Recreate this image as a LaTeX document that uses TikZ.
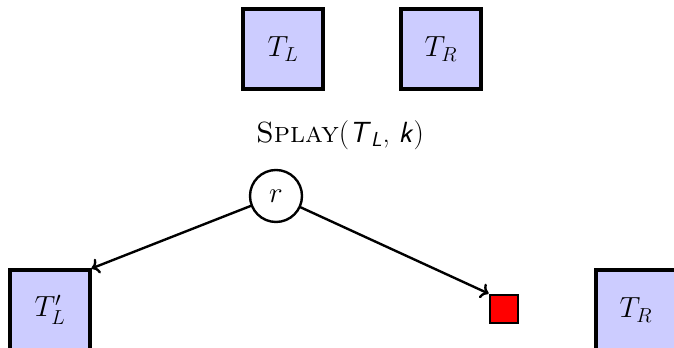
\documentclass[tikz,border=0pt]{standalone}
\usepackage{amsmath,amssymb}
\usepackage{tikz}
\usetikzlibrary{arrows.meta,positioning}

\newcommand{\sfit}[1]{\textsf{\itshape #1}}

\begin{document}
\begin{tikzpicture}[
    line cap=round,
    every node/.style={font=\huge},
    subtree/.style={draw, line width=2.2pt, fill=blue!20, minimum size=2cm, inner sep=0pt},
    vert/.style={circle, draw, line width=1.7pt, fill=white, minimum size=1.3cm, inner sep=0pt},
    leaf/.style={draw, line width=2pt, fill=red, minimum size=0.7cm, inner sep=0pt},
    edge/.style={->, line width=1.7pt}
]
\useasboundingbox (0,0) rectangle (16.85,8.7);

% before the split
\node[subtree] (tl) at (7.075,7.475) {$T_L$};
\node[subtree] (tr) at (11.025,7.475) {$T_R$};

\node (op) at (8.5,5.325) {\textsc{Splay}$($\sfit{T}$_{\text{\sfit{L}}}$, \sfit{k}$)$};

% after splaying the left tree
\node[vert] (r) at (6.9,3.8) {$r$};
\node[subtree] (tlp) at (1.25,0.95) {$T_L'$};
\node[leaf] (nil) at (12.6,0.975) {};
\node[subtree] (trb) at (15.9,0.95) {$T_R$};

\draw[edge] (r) -- (tlp.north east);
\draw[edge] (r) -- (nil.north west);

\end{tikzpicture}
\end{document}
